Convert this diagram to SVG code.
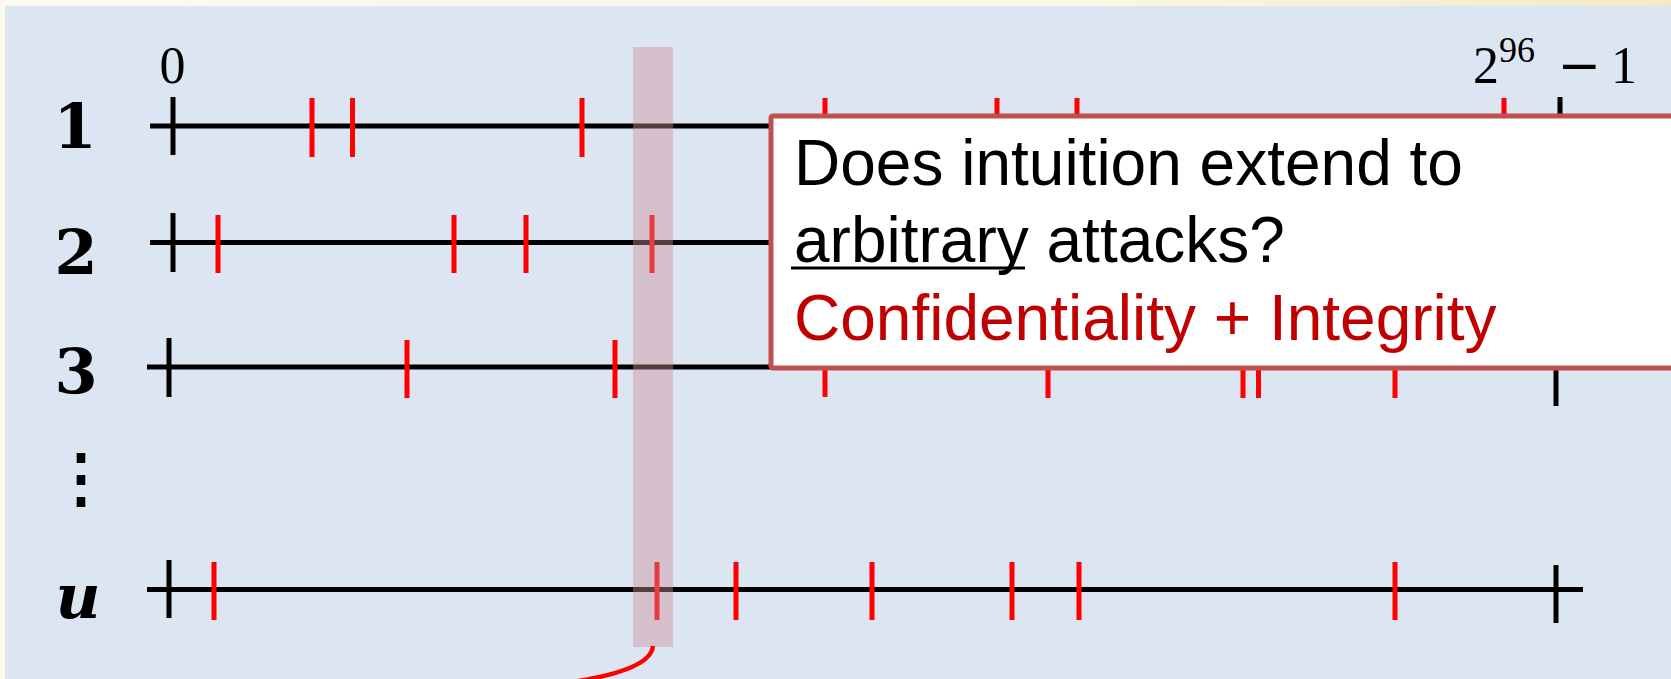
<svg xmlns="http://www.w3.org/2000/svg" width="1671" height="679" viewBox="0 0 1671 679">
  <defs>
    <linearGradient id="frameGrad" x1="0" y1="0" x2="1" y2="0">
      <stop offset="0" stop-color="#FBFAEF"/>
      <stop offset="0.65" stop-color="#FAF7E6"/>
      <stop offset="1" stop-color="#F2E9C8"/>
    </linearGradient>
    <style>
      .axis { stroke: #000; stroke-width: 5; fill: none; }
      .end { stroke: #000; stroke-width: 5; }
      .hit { stroke: #FF0000; stroke-width: 5; }
      .row-label { font-family: "DejaVu Serif", "Liberation Serif", serif; font-weight: bold; font-size: 62px; fill: #000; text-anchor: middle; }
      .bound { font-family: "Liberation Serif", "DejaVu Serif", serif; font-size: 52px; fill: #000; }
      .callout-text { font-family: "Liberation Sans", Arial, sans-serif; font-size: 64px; fill: #000; }
      .callout-text.accent { fill: #C00000; }
    </style>
  </defs>

  <!-- page frame and panel -->
  <rect x="0" y="0" width="1671" height="679" fill="url(#frameGrad)"/>
  <rect x="5" y="6" width="1666" height="673" fill="#DCE6F2"/>

  <!-- range bounds -->
  <g id="bounds">
    <text class="bound" x="172.5" y="83" text-anchor="middle">0</text>
    <text class="bound" x="1473" y="83">2</text>
    <text class="bound" x="1499" y="62" style="font-size:36px">96</text>
    <text x="1557.5" y="83" font-family="DejaVu Sans, sans-serif" font-size="52px" fill="#000">−</text>
    <text class="bound" x="1611" y="83">1</text>
  </g>

  <!-- row 1 -->
  <g id="row-1">
    <text class="row-label" x="75" y="148">1</text>
    <line class="axis" x1="150" y1="126" x2="1590" y2="126"/>
    <line class="end" x1="173" y1="97" x2="173" y2="155"/>
    <line class="end" x1="1560" y1="97" x2="1560" y2="155"/>
    <line class="hit" x1="312" y1="98" x2="312" y2="157"/>
    <line class="hit" x1="352.5" y1="98" x2="352.5" y2="157"/>
    <line class="hit" x1="582" y1="98" x2="582" y2="157"/>
    <line class="hit" x1="825" y1="98" x2="825" y2="157"/>
    <line class="hit" x1="997" y1="98" x2="997" y2="157"/>
    <line class="hit" x1="1077" y1="98" x2="1077" y2="157"/>
    <line class="hit" x1="1504" y1="98" x2="1504" y2="157"/>
  </g>

  <!-- row 2 -->
  <g id="row-2">
    <text class="row-label" x="76" y="274">2</text>
    <line class="axis" x1="150" y1="242.5" x2="1590" y2="242.5"/>
    <line class="end" x1="173" y1="213" x2="173" y2="272"/>
    <line class="hit" x1="218" y1="215" x2="218" y2="273"/>
    <line class="hit" x1="454" y1="215" x2="454" y2="273"/>
    <line class="hit" x1="526" y1="215" x2="526" y2="273"/>
    <line class="hit" x1="652" y1="215" x2="652" y2="273"/>
  </g>

  <!-- row 3 -->
  <g id="row-3">
    <text class="row-label" x="76" y="393">3</text>
    <line class="axis" x1="147" y1="367" x2="1590" y2="367"/>
    <line class="end" x1="169" y1="338" x2="169" y2="397"/>
    <line class="end" x1="1556" y1="340" x2="1556" y2="406"/>
    <line class="hit" x1="407" y1="340" x2="407" y2="398"/>
    <line class="hit" x1="615" y1="340" x2="615" y2="398"/>
    <line class="hit" x1="825" y1="340" x2="825" y2="397"/>
    <line class="hit" x1="1048" y1="340" x2="1048" y2="398"/>
    <line class="hit" x1="1243" y1="340" x2="1243" y2="398"/>
    <line class="hit" x1="1258.5" y1="340" x2="1258.5" y2="398"/>
    <line class="hit" x1="1395" y1="340" x2="1395" y2="398"/>
  </g>

  <!-- elided rows -->
  <g id="ellipsis">
    <text x="80.5" y="500" font-family="DejaVu Serif, serif" font-weight="bold" font-size="64px" text-anchor="middle" fill="#000">⋮</text>
  </g>

  <!-- row u -->
  <g id="row-u">
    <text class="row-label" x="78" y="618" font-style="italic">u</text>
    <line class="axis" x1="147" y1="589.5" x2="1583" y2="589.5"/>
    <line class="end" x1="169" y1="560" x2="169" y2="618"/>
    <line class="end" x1="1556" y1="565" x2="1556" y2="623"/>
    <line class="hit" x1="214" y1="562" x2="214" y2="620"/>
    <line class="hit" x1="657" y1="562" x2="657" y2="620"/>
    <line class="hit" x1="736" y1="562" x2="736" y2="620"/>
    <line class="hit" x1="872" y1="562" x2="872" y2="620"/>
    <line class="hit" x1="1012" y1="562" x2="1012" y2="620"/>
    <line class="hit" x1="1079" y1="562" x2="1079" y2="620"/>
    <line class="hit" x1="1395" y1="562" x2="1395" y2="620"/>
  </g>

  <!-- highlighted column across all rows -->
  <g id="column-highlight">
    <rect x="633" y="47" width="40" height="600" fill="#CD8C96" fill-opacity="0.42"/>
  </g>

  <g id="connectors">
    <path d="M653,646 Q651,672 558,684" fill="none" stroke="#FF0000" stroke-width="4.5"/>
  </g>

  <!-- question callout -->
  <g id="callout">
    <rect x="771" y="116" width="960" height="252" rx="2" fill="#FFFFFF" stroke="#C0504D" stroke-width="5"/>
    <text class="callout-text" x="794" y="185">Does intuition extend to</text>
    <text class="callout-text" x="794" y="262">arbitrary attacks?</text>
    <line x1="791" y1="268" x2="1025" y2="268" stroke="#000" stroke-width="3"/>
    <text class="callout-text accent" x="794" y="340">Confidentiality + Integrity</text>
  </g>
</svg>
